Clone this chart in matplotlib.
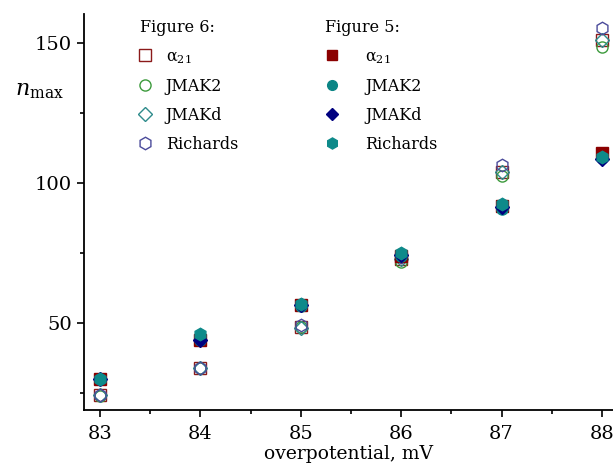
import matplotlib
matplotlib.use("Agg")
import matplotlib.pyplot as plt
from matplotlib.lines import Line2D

plt.rcParams['font.family'] = 'DejaVu Serif'
plt.rcParams['mathtext.fontset'] = 'dejavuserif'

# overpotential, mV
eta = [83, 84, 85, 86, 87, 88]

# Figure 6 (open symbols)
f6_alpha = [24.3, 34.0, 48.6, 73.0, 104.0, 151.0]
f6_jmak2 = [24.0, 34.0, 48.6, 71.8, 102.5, 148.6]
f6_jmakd = [24.3, 34.0, 48.4, 73.0, 104.0, 151.0]
f6_rich = [24.3, 34.0, 49.2, 73.5, 106.4, 155.4]

# Figure 5 (filled symbols)
f5_alpha = [30.0, 44.0, 56.5, 74.0, 92.0, 110.7]
f5_jmak2 = [30.0, 44.0, 56.0, 74.0, 90.8, 109.0]
f5_jmakd = [30.0, 44.0, 56.5, 74.5, 91.5, 108.8]
f5_rich = [30.0, 46.0, 56.8, 75.0, 92.5, 109.5]

labels = [r'$\mathrm{\alpha}_{21}$', 'JMAK2', 'JMAKd', 'Richards']

fig = plt.figure(figsize=(6.13, 4.72), dpi=100)
ax = fig.add_axes([0.137, 0.131, 0.863, 0.839])

ms = 8
open_styles = [('s', '#8b1a1a'), ('o', '#3c9a3c'), ('D', '#2e8b8b'), ('h', '#4a4a9a')]
filled_styles = [('s', '#8b0000'), ('o', '#0b8585'), ('D', '#00007f'), ('h', '#0e8a8a')]

h6 = []
for (m, c), ys, lab in zip(open_styles, [f6_alpha, f6_jmak2, f6_jmakd, f6_rich], labels):
    msz = ms - 1 if m == 'D' else ms + 1 if m == 'h' else ms
    ax.plot(eta, ys, ls='none', marker=m, ms=msz, mfc='none', mec=c, mew=1.0)
    h6.append(Line2D([], [], ls='none', marker=m, ms=msz, mfc='none', mec=c, mew=1.0, label=lab))

h5 = []
for (m, c), ys, lab in zip(filled_styles, [f5_alpha, f5_jmak2, f5_jmakd, f5_rich], labels):
    msz = ms - 1 if m == 'D' else ms + 1 if m == 'h' else ms
    ax.plot(eta, ys, ls='none', marker=m, ms=msz, mfc=c, mec=c, mew=1.0)
    h5.append(Line2D([], [], ls='none', marker=m, ms=msz - 1, mfc=c, mec=c, label=lab))

ax.set_xlim(82.84, 88.11)
ax.set_ylim(18.9, 160.4)
ax.set_xticks([83, 84, 85, 86, 87, 88])
ax.set_xticks([83.5, 84.5, 85.5, 86.5, 87.5], minor=True)
ax.set_yticks([50, 100, 150])
ax.set_yticks([25, 75, 125], minor=True)
ax.tick_params(axis='both', which='major', labelsize=14, length=5, width=1.2, direction='out')
ax.tick_params(axis='x', which='major', pad=6)
ax.tick_params(axis='both', which='minor', length=3, width=1.2, direction='out')
ax.spines['top'].set_visible(False)
ax.spines['right'].set_visible(False)
ax.spines['left'].set_linewidth(1.3)
ax.spines['bottom'].set_linewidth(1.3)

ax.set_xlabel('overpotential, mV', fontsize=13.5, labelpad=1)
ax.set_ylabel(r'$n_{\mathrm{max}}$', fontsize=16, rotation=0, labelpad=0)
ax.yaxis.set_label_coords(-0.085, 0.78)

leg1 = ax.legend(handles=h6, title='Figure 6:', loc='upper left', bbox_to_anchor=(0.091, 1.008),
                 frameon=False, fontsize=11.5, title_fontsize=11.5, alignment='left',
                 borderpad=0, handletextpad=1.0, labelspacing=0.75, handlelength=0.6)
ax.add_artist(leg1)
ax.legend(handles=h5, title='Figure 5:', loc='upper left', bbox_to_anchor=(0.441, 1.008),
          frameon=False, fontsize=11.5, title_fontsize=11.5, alignment='left',
          borderpad=0, handletextpad=1.6, labelspacing=0.75, handlelength=0.9)

fig.savefig('out.png', dpi=100)
